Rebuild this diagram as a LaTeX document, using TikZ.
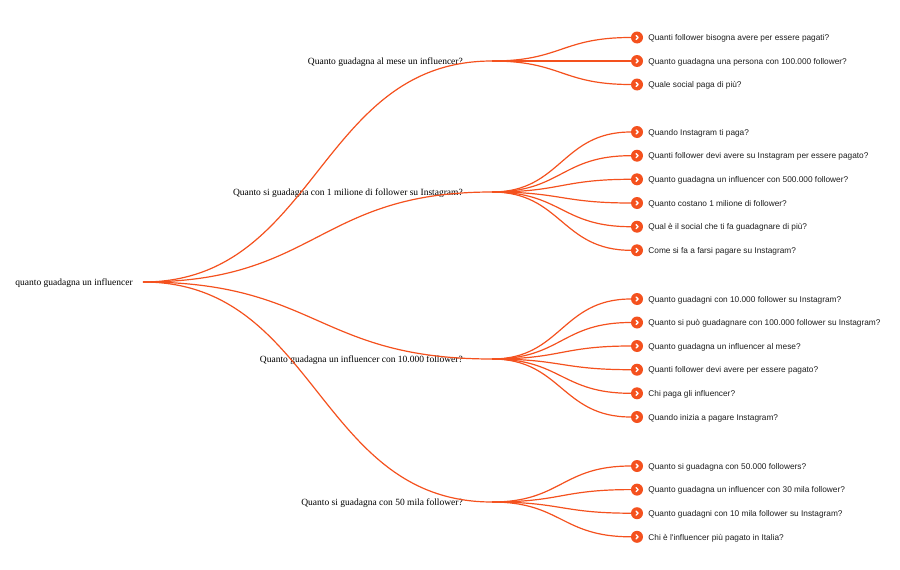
\documentclass[tikz,border=0pt]{standalone}
\usepackage{fontspec}
\setmainfont{Liberation Serif}
\newfontfamily\leaffont{Liberation Sans}
\usetikzlibrary{calc}
\definecolor{linkred}{RGB}{244,81,30}
\definecolor{leafgray}{RGB}{30,30,30}
\begin{document}
\begin{tikzpicture}[x=1pt, y=-1pt,
		qtext/.style={anchor=east, inner sep=0pt, yshift=-1.5pt, font=\fontsize{9.5}{11}\selectfont, text=black},
		leaf/.style={circle, fill=linkred, minimum size=12pt, inner sep=0pt,
			path picture={\draw [white, line width=1.3pt, line cap=round, line join=round]
				([xshift=-0.9pt,yshift=2pt]path picture bounding box.center) -- ++(2pt,-2pt) -- ++(-2pt,-2pt);},
			label={[font=\leaffont\fontsize{8.3}{10}\selectfont, text=leafgray, inner sep=0pt, yshift=-1pt, label distance=5pt]right:#1}},
		link/.style={draw=linkred, line width=1.2pt,
			to path={let \p1=(\tikztostart), \p2=(\tikztotarget) in
				.. controls ({0.5*\x1+0.5*\x2},\y1) and ({0.5*\x1+0.5*\x2},\y2) .. (\tikztotarget)}}]
			\useasboundingbox (0,0) rectangle (900,570);
			% root
			\node [qtext] (root) at (133,282) {quanto guadagna un influencer};
			\coordinate (r) at (143,282);
			% first level
			\node [qtext] (t1) at (463,61) {Quanto guadagna al mese un influencer?};
			\node [qtext] (t2) at (463,192) {Quanto si guadagna con 1 milione di follower su Instagram?};
			\node [qtext] (t3) at (463,359) {Quanto guadagna un influencer con 10.000 follower?};
			\node [qtext] (t4) at (463,502) {Quanto si guadagna con 50 mila follower?};
			\coordinate (q1) at (492,61);
			\coordinate (q2) at (492,192);
			\coordinate (q3) at (492,359);
			\coordinate (q4) at (492,502);
			\draw [link] (r) to (q1);
			\draw [link] (r) to (q2);
			\draw [link] (r) to (q3);
			\draw [link] (r) to (q4);
			% leaves
			\node [leaf={Quanti follower bisogna avere per essere pagati?}] (l11) at (637,37.5) {};
			\node [leaf={Quanto guadagna una persona con 100.000 follower?}] (l12) at (637,61) {};
			\node [leaf={Quale social paga di più?}] (l13) at (637,84.5) {};
			\node [leaf={Quando Instagram ti paga?}] (l21) at (637,132) {};
			\node [leaf={Quanti follower devi avere su Instagram per essere pagato?}] (l22) at (637,155.7) {};
			\node [leaf={Quanto guadagna un influencer con 500.000 follower?}] (l23) at (637,179.3) {};
			\node [leaf={Quanto costano 1 milione di follower?}] (l24) at (637,203) {};
			\node [leaf={Qual è il social che ti fa guadagnare di più?}] (l25) at (637,226.7) {};
			\node [leaf={Come si fa a farsi pagare su Instagram?}] (l26) at (637,250.3) {};
			\node [leaf={Quanto guadagni con 10.000 follower su Instagram?}] (l31) at (637,299) {};
			\node [leaf={Quanto si può guadagnare con 100.000 follower su Instagram?}] (l32) at (637,322.5) {};
			\node [leaf={Quanto guadagna un influencer al mese?}] (l33) at (637,346) {};
			\node [leaf={Quanti follower devi avere per essere pagato?}] (l34) at (637,369.7) {};
			\node [leaf={Chi paga gli influencer?}] (l35) at (637,393.3) {};
			\node [leaf={Quando inizia a pagare Instagram?}] (l36) at (637,417) {};
			\node [leaf={Quanto si guadagna con 50.000 followers?}] (l41) at (637,466) {};
			\node [leaf={Quanto guadagna un influencer con 30 mila follower?}] (l42) at (637,489.6) {};
			\node [leaf={Quanto guadagni con 10 mila follower su Instagram?}] (l43) at (637,513.2) {};
			\node [leaf={Chi è l'influencer più pagato in Italia?}] (l44) at (637,536.8) {};
			\draw [link] (q1) to (l11.west);
			\draw [link] (q1) to (l12.west);
			\draw [link] (q1) to (l13.west);
			\draw [link] (q2) to (l21.west);
			\draw [link] (q2) to (l22.west);
			\draw [link] (q2) to (l23.west);
			\draw [link] (q2) to (l24.west);
			\draw [link] (q2) to (l25.west);
			\draw [link] (q2) to (l26.west);
			\draw [link] (q3) to (l31.west);
			\draw [link] (q3) to (l32.west);
			\draw [link] (q3) to (l33.west);
			\draw [link] (q3) to (l34.west);
			\draw [link] (q3) to (l35.west);
			\draw [link] (q3) to (l36.west);
			\draw [link] (q4) to (l41.west);
			\draw [link] (q4) to (l42.west);
			\draw [link] (q4) to (l43.west);
			\draw [link] (q4) to (l44.west);
		\end{tikzpicture}
\end{document}
